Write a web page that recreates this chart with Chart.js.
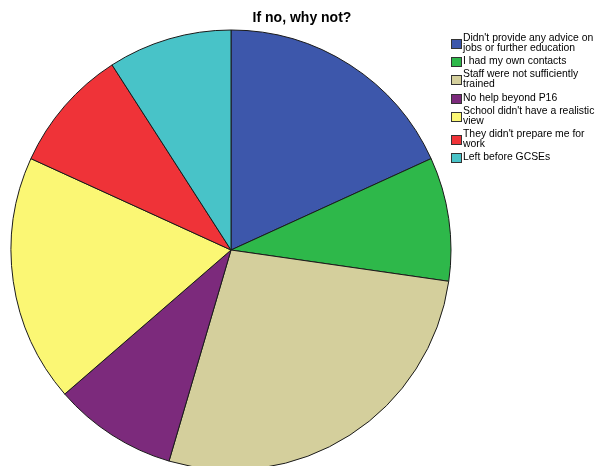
<!DOCTYPE html>
<html>
<head>
<meta charset="utf-8">
<script src="https://cdn.jsdelivr.net/npm/chart.js@4/dist/chart.umd.min.js"></script>
<style>
  html, body { margin: 0; padding: 0; background: #fff; }
  #wrap { width: 596px; height: 466px; position: relative; }
</style>
</head>
<body>
<div id="wrap"><canvas id="pieChart"></canvas></div>
<script>
// reasons given for "no" answers
const reasons = [
    ["Didn't provide any advice on", "jobs or further education"],
    ["I had my own contacts"],
    ["Staff were not sufficiently", "trained"],
    ["No help beyond P16"],
    ["School didn't have a realistic", "view"],
    ["They didn't prepare me for", "work"],
    ["Left before GCSEs"]
]
const counts = [2, 1, 3, 1, 2, 1, 1]
const sliceColors = ['#3d57ab', '#2eb84a', '#d4cf9c', '#7c2a7c', '#fbf774', '#ef3338', '#48c3c8']
const chartTitle = 'If no, why not?'

// title + wrapped legend drawn straight onto the canvas
const sideLegend = {
    id: 'sideLegend',
    afterDraw(chart) {
        const ctx = chart.ctx
        ctx.save()
        ctx.fillStyle = '#000'
        ctx.font = 'bold 14px "Liberation Sans", Arial, sans-serif'
        ctx.textAlign = 'center'
        ctx.textBaseline = 'middle'
        ctx.fillText(chartTitle, 302, 18)

        ctx.font = '10.4px "Liberation Sans", Arial, sans-serif'
        ctx.textAlign = 'left'
        ctx.textBaseline = 'top'
        const lineH = 10
        let y = 33
        chart.data.labels.forEach((lines, i) => {
            const blockH = lines.length * lineH
            const boxY = Math.round(y + blockH / 2 - 4) + 0.5
            ctx.fillStyle = chart.data.datasets[0].backgroundColor[i]
            ctx.fillRect(451.5, boxY, 10, 9)
            ctx.strokeStyle = '#333'
            ctx.lineWidth = 1
            ctx.strokeRect(451.5, boxY, 10, 9)
            ctx.fillStyle = '#000'
            lines.forEach((t, j) => ctx.fillText(t, 463, y + j * lineH))
            y += blockH + 3.2
        })
        ctx.restore()
    }
}

new Chart(document.getElementById('pieChart'), {
    type: 'pie',
    data: {
        labels: reasons,
        datasets: [{
            data: counts,
            backgroundColor: sliceColors,
            borderColor: '#1a1a1a',
            borderWidth: 1,
            radius: 220,
            clip: false
        }]
    },
    options: {
        responsive: true,
        maintainAspectRatio: false,
        animation: false,
        layout: { padding: { left: 11, right: 145, top: 34, bottom: 0 } },
        plugins: {
            legend: { display: false },
            title: { display: false },
            tooltip: { enabled: false }
        }
    },
    plugins: [sideLegend]
})
</script>
</body>
</html>
